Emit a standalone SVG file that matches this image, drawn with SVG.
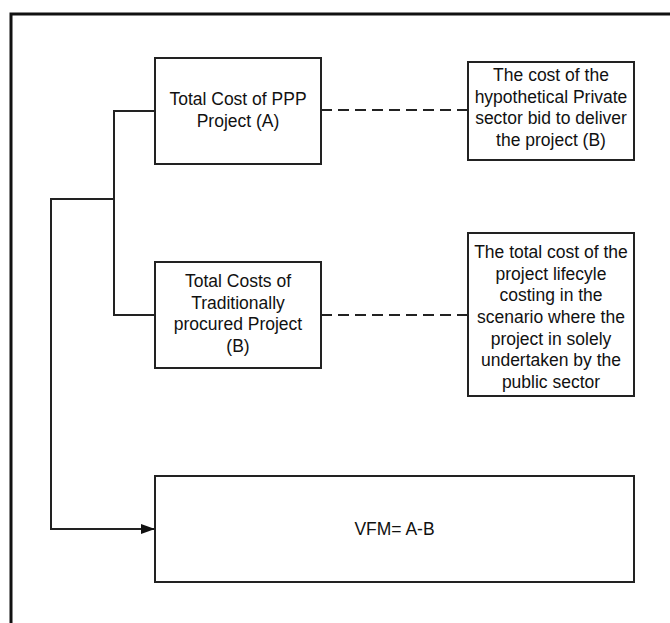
<svg xmlns="http://www.w3.org/2000/svg" width="670" height="623" viewBox="0 0 670 623">
<style>
.box{fill:#fff;stroke:#222;stroke-width:2}
.t{font-family:"Liberation Sans",Arial,sans-serif;font-size:17.5px;fill:#111;text-anchor:middle}
.c{fill:none;stroke:#222;stroke-width:2}
.d{fill:none;stroke:#222;stroke-width:2;stroke-dasharray:11 6}
</style>
<defs>
<marker id="arr" markerWidth="14" markerHeight="10" refX="14" refY="5" orient="auto" markerUnits="userSpaceOnUse">
<path d="M0,0 L14,5 L0,10 Z" fill="#111"/>
</marker>
</defs>
<rect width="670" height="623" fill="#fff"/>
<rect x="11" y="14" width="700" height="700" fill="none" stroke="#111" stroke-width="3"/>
<g id="connectors">
<path class="c" d="M155,111 H114 V315 H155"/>
<path class="c" d="M114,199 H51 V529 H155" marker-end="url(#arr)"/>
<path class="d" d="M321,110 H468"/>
<path class="d" d="M321,315 H468"/>
</g>
<g id="nodeA">
<rect class="box" x="155" y="58" width="166" height="106"/>
<text class="t" x="238" y="105">Total Cost of PPP</text>
<text class="t" x="238" y="126.5">Project (A)</text>
</g>
<g id="nodeB">
<rect class="box" x="155" y="262" width="166" height="106"/>
<text class="t" x="238" y="287">Total Costs of</text>
<text class="t" x="238" y="308.5">Traditionally</text>
<text class="t" x="238" y="330">procured Project</text>
<text class="t" x="238" y="351.5">(B)</text>
</g>
<g id="nodeA2">
<rect class="box" x="468" y="62" width="166" height="98"/>
<text class="t" x="551" y="81">The cost of the</text>
<text class="t" x="551" y="102.7">hypothetical Private</text>
<text class="t" x="551" y="124.3">sector bid to deliver</text>
<text class="t" x="551" y="146">the project (B)</text>
</g>
<g id="nodeB2">
<rect class="box" x="468" y="233" width="166" height="163"/>
<text class="t" x="551" y="258">The total cost of the</text>
<text class="t" x="551" y="279.7">project lifecyle</text>
<text class="t" x="551" y="301.3">costing in the</text>
<text class="t" x="551" y="323">scenario where the</text>
<text class="t" x="551" y="344.7">project in solely</text>
<text class="t" x="551" y="366.3">undertaken by the</text>
<text class="t" x="551" y="388">public sector</text>
</g>
<g id="nodeVFM">
<rect class="box" x="155" y="476" width="479" height="106"/>
<text class="t" x="394.5" y="535">VFM= A-B</text>
</g>
</svg>
